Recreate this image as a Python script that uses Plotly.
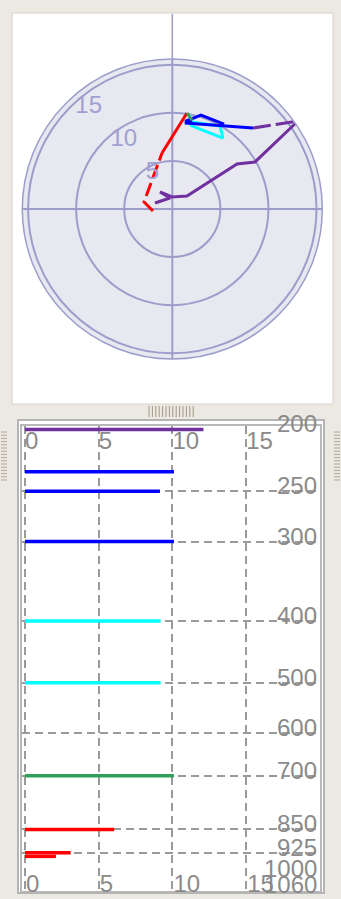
import numpy as np
import plotly.graph_objects as go

W, H = 341, 899

# wind speed by pressure level (lower panel)
PRESSURE = [200, 233, 250, 300, 400, 500, 700, 850, 925, 937]
SPEED = [12.1, 10.1, 9.15, 10.1, 9.2, 9.2, 10.1, 6.05, 3.1, 2.1]
LAYER = ["purple", "blue", "blue", "blue", "cyan", "cyan", "green", "red", "red", "red"]

P_TICKS = [200, 250, 300, 400, 500, 600, 700, 850, 925, 1000, 1060]
SPEED_TICKS = [0, 5, 10, 15]
RING_TICKS = [5, 10, 15]

# hodograph u/v components (upper panel)
RED_DASH_U = [-2.01, -2.94, -1.07]
RED_DASH_V = [-0.21, 0.73, 5.82]
RED_U = [-1.07, 1.53]
RED_V = [5.82, 9.98]
GREEN_U = [1.53, 2.05]
GREEN_V = [9.98, 9.25]
CYAN_U = [1.84, 5.27, 4.96, 2.05]
CYAN_V = [8.73, 7.38, 8.63, 9.04]
BLUE_U = [2.05, 1.32, 8.39, None, 1.32, 2.98, 5.38]
BLUE_V = [9.25, 8.94, 8.42, None, 9.10, 9.77, 8.83]
PURPLE_DASH_U = [8.39, 13.07]
PURPLE_DASH_V = [8.42, 9.15]
PURPLE_U = [13.07, 8.60, 6.73, 1.53, -0.03, -1.28, -0.24, -1.80]
PURPLE_V = [9.15, 4.89, 4.68, 1.35, 1.25, 1.77, 1.14, 0.62]

COLORS = {"red": "#ff0000", "green": "#2ea05a", "blue": "#0000ff",
          "cyan": "#00ffff", "purple": "#7030a0"}
BEIGE = "#ece9e2"
LAV = "#9d9dcc"
GRID = "#9a9a9a"
TXT = "#8a8a8a"


def px(x):
    return x / W


def py(y):
    return 1 - y / H


def to_polar(u, v):
    r, th = [], []
    for a, b in zip(u, v):
        if a is None:
            r.append(None)
            th.append(None)
        else:
            r.append(float(np.hypot(a, b)))
            th.append(float(np.degrees(np.arctan2(b, a))))
    return r, th


fig = go.Figure()

# hodograph
hodo = [
    (CYAN_U, CYAN_V, "cyan", "solid"),
    (BLUE_U, BLUE_V, "blue", "solid"),
    (RED_DASH_U, RED_DASH_V, "red", "14px,5px"),
    (RED_U, RED_V, "red", "solid"),
    (GREEN_U, GREEN_V, "green", "solid"),
    (PURPLE_DASH_U, PURPLE_DASH_V, "purple", "18px,5px"),
    (PURPLE_U, PURPLE_V, "purple", "solid"),
]
for u, v, c, dash in hodo:
    r, th = to_polar(u, v)
    fig.add_trace(go.Scatterpolar(r=r, theta=th, mode="lines",
                                  line=dict(color=COLORS[c], width=3, dash=dash),
                                  showlegend=False))

# speed bars
for c in ["purple", "blue", "cyan", "green", "red"]:
    xs, ys = [], []
    for p, s, lay in zip(PRESSURE, SPEED, LAYER):
        if lay == c:
            xs += [0, s, None]
            ys += [p, p, None]
    fig.add_trace(go.Scatter(x=xs, y=ys, mode="lines",
                             line=dict(color=COLORS[c], width=3.5),
                             showlegend=False))
# dummy for top axis
fig.add_trace(go.Scatter(x=[0], y=[500], xaxis="x2", mode="markers",
                         marker=dict(opacity=0), showlegend=False, hoverinfo="skip"))

tickfont = dict(family="Liberation Sans", size=24, color=TXT)

# pressure labels sit just above their grid lines, inside the right edge
annotations = []
for p in P_TICKS:
    annotations.append(dict(x=1, xref="x domain", y=np.log10(p), yref="y",
                            text=str(p), showarrow=False, xanchor="right",
                            yanchor="bottom", xshift=-1, yshift=-10, font=tickfont))

shapes = [
    dict(type="rect", xref="paper", yref="paper", x0=px(12), x1=px(333),
         y0=py(404), y1=py(13), fillcolor="white", line=dict(color="#d6d2ca", width=1),
         layer="below"),
    dict(type="rect", xref="paper", yref="paper", x0=px(17), x1=px(325),
         y0=py(894), y1=py(420), fillcolor="white", line=dict(width=0),
         layer="below"),
    # north axis line running past the outer ring
    dict(type="line", xref="paper", yref="paper", x0=px(172.3), x1=px(172.3),
         y0=py(60), y1=py(14), line=dict(color=LAV, width=1.5)),
    dict(type="rect", xref="paper", yref="paper", x0=px(18), x1=px(324),
         y0=py(893), y1=py(420), line=dict(color="#b4b4b4", width=2),
         layer="above"),
]
# splitter grips
for i in range(14):
    x = 149 + i * 3.4
    shapes.append(dict(type="line", xref="paper", yref="paper", x0=px(x), x1=px(x),
                       y0=py(417), y1=py(406), line=dict(color="#a09888", width=1),
                       layer="above"))
for i in range(16):
    y = 432 + i * 3.2
    for x0, x1 in [(1, 7), (334, 340)]:
        shapes.append(dict(type="line", xref="paper", yref="paper", x0=px(x0), x1=px(x1),
                           y0=py(y), y1=py(y), line=dict(color="#b0a898", width=1)))

fig.update_layout(
    width=W, height=H,
    margin=dict(l=0, r=0, t=0, b=0),
    paper_bgcolor=BEIGE,
    plot_bgcolor="white",
    showlegend=False,
    shapes=shapes,
    annotations=annotations,
    polar=dict(
        domain=dict(x=[px(22.3), px(322.3)], y=[py(359), py(59)]),
        bgcolor="#e8e8f0",
        radialaxis=dict(range=[0, 15.6], tickvals=RING_TICKS, angle=137, tickangle=137,
                        showline=False, ticks="", gridcolor=LAV, gridwidth=1.5,
                        tickfont=dict(family="Liberation Sans", size=24, color="#a0a0d2")),
        angularaxis=dict(dtick=90, showticklabels=False, ticks="", gridcolor=LAV,
                         gridwidth=1.5, showline=True, linecolor=LAV, linewidth=1.5),
    ),
    xaxis=dict(domain=[px(22), px(320)], range=[-0.2, 20], tickvals=SPEED_TICKS,
               ticklabelposition="inside right", ticklabelstandoff=-7, ticks="",
               showgrid=True, gridcolor=GRID, gridwidth=2, griddash="8px,5px",
               zeroline=False, showline=True, mirror=True, linecolor="#b8b8b8",
               linewidth=2, tickfont=tickfont, anchor="y"),
    xaxis2=dict(overlaying="x", matches="x", side="top", anchor="y",
                tickvals=SPEED_TICKS, ticklabelposition="inside right", ticks="",
                showgrid=False, zeroline=False, tickfont=tickfont),
    yaxis=dict(domain=[py(891), py(426)], type="log",
               range=[np.log10(1062), np.log10(197.5)], side="right",
               tickvals=P_TICKS, showticklabels=False, ticks="",
               showgrid=True, gridcolor=GRID, gridwidth=2, griddash="8px,5px",
               zeroline=False, showline=True, mirror=True, linecolor="#b8b8b8",
               linewidth=2, anchor="x"),
)

fig.write_html("out.html", config={"displayModeBar": False},
               post_script="document.body.style.margin='0px';")
